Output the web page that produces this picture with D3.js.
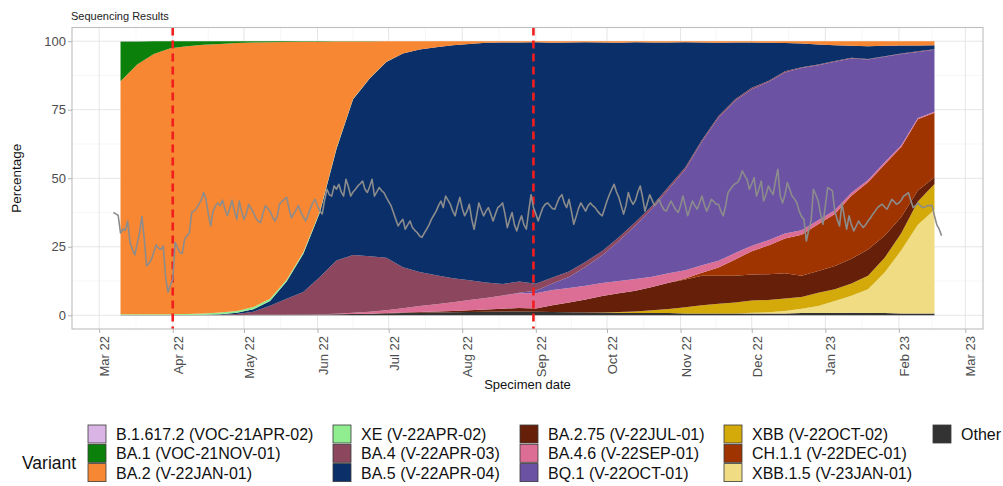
<!DOCTYPE html>
<html lang="en">
<head>
<meta charset="UTF-8">
<title>Sequencing Results</title>
<style>
  body { margin: 0; background: #fff; }
  svg { display: block; font-family: "Liberation Sans", Arial, sans-serif; }
</style>
</head>
<body>
<svg id="chart" width="1003" height="486"></svg>
<script src="https://d3js.org/d3.v7.min.js"></script>
<script>
// weekly variant shares (%), one value per week starting 2022-03-10
const weekStart = "2022-03-10";
const other  = [0.1,0.1,0.1,0.1,0.1,0.1,0.1,0.1,0.2,0.2, 0.2,0.3,0.3,0.4,0.5,0.6,0.7,0.8,0.9,1.0, 1.1,1.2,1.3,1.4,1.4,1.3,1.2,1.1,1.0,0.9, 0.9,0.8,0.8,0.8,0.7,0.7,0.7,0.7,0.7,0.7, 0.7,0.8,0.8,0.8,0.9,0.8,0.8,0.7,0.7,0.7];
const xbb15  = [0,0,0,0,0,0,0,0,0,0, 0,0,0,0,0,0,0,0,0,0, 0,0,0,0,0,0,0,0,0,0, 0,0,0,0,0,0,0,0,0.2,0.4, 0.9,1.6,2.6,4.4,6.2,8.7,14.8,23,32.3,37.8];
const xbb    = [0,0,0,0,0,0,0,0,0,0, 0,0,0,0,0,0,0,0,0,0, 0,0,0,0,0,0,0,0,0,0.1, 0.3,0.6,1,1.5,2.2,3,3.5,4,4.5,4.5, 4.5,4.3,4.8,4.3,4.5,4.9,5.4,6.2,8.5,9.4];
const ba275  = [0,0,0,0,0,0,0,0,0,0, 0,0,0,0,0,0,0.1,0.2,0.3,0.4, 0.5,0.6,0.8,1.0,1.3,1.2,2.5,3.6,4.8,6, 6.8,7.6,8.5,9.6,10.2,10.7,10.2,9.7,9.5,9.4, 9.2,7.7,8,8.5,9,9.6,8,6,4,2.5];
const ch11   = [0,0,0,0,0,0,0,0,0,0, 0,0,0,0,0,0,0,0,0,0, 0,0,0,0,0,0,0,0,0,0, 0,0,0,0,0.3,1.1,3,6,8.5,10.5, 12.7,15,17,19,23,24.5,26,25.5,26,23.5];
const ba46   = [0,0,0,0,0,0,0,0,0,0, 0,0,0.1,0.2,0.4,0.7,1.0,1.6,2.2,2.6, 3.2,3.8,4.2,4.8,5.3,5.5,5.5,5.3,5,4.8, 4.5,4.2,3.8,3.4,3,2.8,2.5,2.3,2,1.9, 1.8,1.6,1.5,1.3,1.1,0.9,0.8,0.6,0.5,0.4];
const bq1    = [0,0,0,0,0,0,0,0,0,0, 0,0,0,0,0,0,0,0,0,0, 0,0,0,0,0.2,1.0,2.4,4,6.9,10.1, 14.6,19.6,24.9,30.8,36.8,45,52.2,55.6,57.1,57.7, 58.8,59.2,56.5,54.2,49,43.9,38.5,33.3,24.1,22.6];
const ba4    = [0,0,0,0,0,0,0.1,0.4,1.1,3.3, 5.8,8.2,13.6,19.4,21.1,20.2,19.2,14.9,12.4,10.6, 8.7,7.2,5.7,4.2,4.1,2.5,2.2,2,1.8,1.6, 1.4,1.2,1.0,0.9,0.8,0.7,0.6,0.5,0.5,0.4, 0.4,0.3,0.3,0.3,0.3,0.2,0.2,0.2,0.2,0.2];
const ba5    = [0,0,0,0,0,0.1,0.2,0.4,0.9,1.7, 6.3,13.9,23.5,40.7,56.8,64.9,71.4,78,81.2,83.2, 85,86.2,87.4,88.1,87.2,88.1,85.6,83.5,80.1,76, 70.9,65.6,59.5,52.5,45.6,35.5,26.7,20.7,16.5,13.9, 10.3,8.7,7.3,5.7,4.3,4.7,3.8,2.9,2.1,1.4];
const xe     = [0.3,0.3,0.3,0.3,0.4,0.5,0.6,0.7,0.8,0.8, 0.7,0.6,0.5,0.3,0.2,0.1,0.1,0,0,0, 0,0,0,0,0,0,0,0,0,0, 0,0,0,0,0,0,0,0,0,0, 0,0,0,0,0,0,0,0,0,0];
const ba2    = [85.0,91.1,94.9,97.0,97.7,98.0,98.0,97.7,96.5,93.6, 86.7,76.8,61.8,38.9,20.9,13.4,7.5,4.5,3.0,2.2, 1.5,1.0,0.6,0.5,0.5,0.4,0.6,0.5,0.4,0.5, 0.6,0.4,0.5,0.5,0.4,0.5,0.6,0.5,0.5,0.6, 0.7,0.8,1.2,1.5,1.7,1.8,1.7,1.6,1.6,1.5];
const ba1    = [14.5,8.4,4.7,2.6,1.8,1.3,1.0,0.7,0.5,0.4, 0.3,0.2,0.2,0.1,0.1,0.1,0,0,0,0, 0,0,0,0,0,0,0,0,0,0, 0,0,0,0,0,0,0,0,0,0, 0,0,0,0,0,0,0,0,0,0];
const b16172 = [0.1,0.1,0,0,0,0,0,0,0,0, 0,0,0,0,0,0,0,0,0,0, 0,0,0,0,0,0,0,0,0,0, 0,0,0,0,0,0,0,0,0,0, 0,0,0,0,0,0,0,0,0,0];

// daily grey line (%), starting 2022-03-07
const seqStart = "2022-03-07";
const seqPct = [
  37.5,37,36.5,30,31.5,31,34.4,26.6,24,22, 26,30,36,28,18,19,20.4,23,25.7,24.5,
  24,25.3,14,8.4,11,13,26.6,24.7,23,22.6, 27.7,29,30,37.6,38,39,40.5,42,44.8,42.3,
  37,32.6,38,40,41,40,42,38.7,36.3,39, 42,38,35,41.7,38,35,37,40.5,39,37.5,
  35.5,34.4,33.8,37,40,39,38,36,34.4,36, 40.5,41.5,42.3,43,39,35.6,37,38.5,40,37.5,
  36,34.4,36.5,39,41,42.3,40,38,37,42, 46,44,43.5,47.2,46,47.8,45,43.5,49.6,47,
  43.5,45,46,47.2,48,49,46,44.8,47,49.6, 43.5,45,46.6,45.5,44.8,43,41.5,40,37.5,35,
  32.6,34,35,31.4,33,34.4,32,31,30.2,29, 28.4,30,31.4,33,35,36.5,38,40,41.7,39.3,
  43.5,42,40.5,38,36.3,40,43,39,36.3,38, 40.5,35,31.4,36,41,38.5,36.3,38,39.3,37,
  34.4,37,39.3,40,41,37,32,35,37.5,33, 30.8,34,36.3,33,31.4,38,44,39.3,37,34.4,
  37,39.3,40.5,41,40,39,38.7,41,43,44, 41,39.3,42.3,38,33.2,36,39,41,39.5,38,
  40,41,40,39.3,38,37,36.3,39,41.7,44, 46,47.8,45,43,40,36.9,40,44.8,42,40.5,
  42,45,47.2,43,38,41,44,42,40,41, 42.3,40,38.5,38,40,41.7,40,38.5,37.5,40,
  43.5,40,36.3,39,41.7,40,38.7,41,43.5,40.5, 38,40,42.3,41.5,40.5,40.5,38,36.3,40,44.8,
  46,47.2,48,48.4,50,52.7,51,49.6,46,48, 50.2,43.5,46,49,41.7,44,47.2,45.5,44,49,
  53.3,43.5,41,44,48.4,46,43.5,42.5,41,38, 36,35,27.1,31,34.4,46,44,41.7,37,33.2,
  40,46.6,46,45.4,38,35,32.6,41,36,31.4, 36.3,33,30.8,32.5,34.4,33,32,33,34.4,35.5,
  36.9,38,39.3,40,40.5,39.5,38.7,40.5,42.3,41.5, 40.5,41,42,43.5,44,44.8,42,39.3,40,41,
  40,39.3,39.5,40,40,40,36.3,33,31.4,29
];

const markerDates = ["2022-04-01", "2022-08-31"];
const yTicks = [0, 25, 50, 75, 100];

// stacking order, bottom to top
const layers = [
  {key: "Other", values: other, color: "#333333"},
  {key: "XBB.1.5 (V-23JAN-01)", values: xbb15, color: "#f0dc82"},
  {key: "XBB (V-22OCT-02)", values: xbb, color: "#d4aa0a"},
  {key: "BA.2.75 (V-22JUL-01)", values: ba275, color: "#66200a"},
  {key: "CH.1.1 (V-22DEC-01)", values: ch11, color: "#a03400"},
  {key: "BA.4.6 (V-22SEP-01)", values: ba46, color: "#dc6e96"},
  {key: "BQ.1 (V-22OCT-01)", values: bq1, color: "#6b52a3"},
  {key: "BA.4 (V-22APR-03)", values: ba4, color: "#8c465e"},
  {key: "BA.5 (V-22APR-04)", values: ba5, color: "#0b2f68"},
  {key: "XE (V-22APR-02)", values: xe, color: "#90ee90"},
  {key: "BA.2 (V-22JAN-01)", values: ba2, color: "#f78733"},
  {key: "BA.1 (VOC-21NOV-01)", values: ba1, color: "#0b800b"},
  {key: "B.1.617.2 (VOC-21APR-02)", values: b16172, color: "#dab4e4"}
];
const legendOrder = [
  "B.1.617.2 (VOC-21APR-02)", "BA.1 (VOC-21NOV-01)", "BA.2 (V-22JAN-01)",
  "XE (V-22APR-02)", "BA.4 (V-22APR-03)", "BA.5 (V-22APR-04)",
  "BA.2.75 (V-22JUL-01)", "BA.4.6 (V-22SEP-01)", "BQ.1 (V-22OCT-01)",
  "XBB (V-22OCT-02)", "CH.1.1 (V-22DEC-01)", "XBB.1.5 (V-23JAN-01)",
  "Other"
];

const svg = d3.select("#chart");
const panel = {left: 72, top: 27.5, right: 983, bottom: 329};
const parse = d3.utcParse("%Y-%m-%d");

const weekDates = other.map((v, j) => d3.utcDay.offset(parse(weekStart), 7 * j));
const lineDates = seqPct.map((v, i) => d3.utcDay.offset(parse(seqStart), i));
const pad = (lineDates[lineDates.length - 1] - lineDates[0]) * 0.05;

const x = d3.scaleUtc()
  .domain([new Date(+lineDates[0] - pad), new Date(+lineDates[lineDates.length - 1] + pad)])
  .range([panel.left, panel.right]);
const y = d3.scaleLinear().domain([-5, 105]).range([panel.bottom, panel.top]);

const months = d3.utcMonth.range(parse("2022-03-01"), parse("2023-03-02"));
const minorX = d3.pairs(months).map(([a, b]) => new Date((+a + +b) / 2));
const minorY = d3.pairs(yTicks).map(([a, b]) => (a + b) / 2);

// grid
const grid = svg.append("g");
grid.selectAll(".mx").data(minorX).join("line")
  .attr("x1", d => x(d)).attr("x2", d => x(d))
  .attr("y1", panel.top).attr("y2", panel.bottom)
  .attr("stroke", "#f2f2f2").attr("stroke-width", 0.6);
grid.selectAll(".my").data(minorY).join("line")
  .attr("x1", panel.left).attr("x2", panel.right)
  .attr("y1", d => y(d)).attr("y2", d => y(d))
  .attr("stroke", "#f2f2f2").attr("stroke-width", 0.6);
grid.selectAll(".Mx").data(months).join("line")
  .attr("x1", d => x(d)).attr("x2", d => x(d))
  .attr("y1", panel.top).attr("y2", panel.bottom)
  .attr("stroke", "#e6e6e6").attr("stroke-width", 1);
grid.selectAll(".My").data(yTicks).join("line")
  .attr("x1", panel.left).attr("x2", panel.right)
  .attr("y1", d => y(d)).attr("y2", d => y(d))
  .attr("stroke", "#e6e6e6").attr("stroke-width", 1);

// stacked areas
const rows = weekDates.map((d, j) => {
  const r = {date: d};
  layers.forEach(l => r[l.key] = l.values[j]);
  return r;
});
const stacked = d3.stack().keys(layers.map(l => l.key))(rows);
const area = d3.area()
  .x(d => x(d.data.date))
  .y0(d => y(d[0]))
  .y1(d => y(d[1]));
const colorOf = Object.fromEntries(layers.map(l => [l.key, l.color]));

svg.append("g").selectAll("path").data(stacked).join("path")
  .attr("d", area)
  .attr("fill", d => colorOf[d.key]);

// red dashed markers
svg.append("g").selectAll("line").data(markerDates).join("line")
  .attr("x1", d => x(parse(d))).attr("x2", d => x(parse(d)))
  .attr("y1", panel.top).attr("y2", panel.bottom)
  .attr("stroke", "#f21d1d").attr("stroke-width", 2.6)
  .attr("stroke-dasharray", "8,5");

// grey line
const line = d3.line().x((d, i) => x(lineDates[i])).y(d => y(d));
svg.append("path")
  .datum(seqPct)
  .attr("d", line)
  .attr("fill", "none")
  .attr("stroke", "#8c8c8c")
  .attr("stroke-width", 1.6)
  .attr("stroke-linejoin", "round");

// panel border
svg.append("rect")
  .attr("x", panel.left).attr("y", panel.top)
  .attr("width", panel.right - panel.left).attr("height", panel.bottom - panel.top)
  .attr("fill", "none").attr("stroke", "#bdbdbd").attr("stroke-width", 1.1);

// axes
svg.append("g")
  .attr("transform", `translate(0,${panel.bottom})`)
  .call(d3.axisBottom(x).tickValues(months).tickFormat(d3.utcFormat("%b %y")).tickSize(4))
  .call(g => g.select(".domain").remove())
  .call(g => g.selectAll(".tick line").attr("stroke", "#b3b3b3"))
  .call(g => g.selectAll(".tick text")
    .attr("transform", "rotate(-90)")
    .attr("text-anchor", "end")
    .attr("x", -7).attr("y", 5).attr("dy", "0.35em")
    .attr("fill", "#4d4d4d")
    .attr("font-size", 13)
    .attr("font-family", "Liberation Sans, Arial, sans-serif"));

svg.append("g")
  .attr("transform", `translate(${panel.left},0)`)
  .call(d3.axisLeft(y).tickValues(yTicks).tickSize(4).tickPadding(2))
  .call(g => g.select(".domain").remove())
  .call(g => g.selectAll(".tick line").attr("stroke", "#b3b3b3"))
  .call(g => g.selectAll(".tick text")
    .attr("fill", "#4d4d4d")
    .attr("font-size", 13)
    .attr("font-family", "Liberation Sans, Arial, sans-serif"));

// titles
svg.append("text")
  .attr("x", 71).attr("y", 20)
  .attr("font-size", 11).attr("fill", "#222")
  .text("Sequencing Results");
svg.append("text")
  .attr("x", (panel.left + panel.right) / 2).attr("y", 389)
  .attr("text-anchor", "middle").attr("font-size", 13).attr("fill", "#111")
  .text("Specimen date");
svg.append("text")
  .attr("transform", `translate(21,${(panel.top + panel.bottom) / 2}) rotate(-90)`)
  .attr("text-anchor", "middle").attr("font-size", 13.5).attr("fill", "#111")
  .text("Percentage");

// legend
const legend = svg.append("g");
legend.append("text")
  .attr("x", 22).attr("y", 469)
  .attr("font-size", 17.5).attr("fill", "#111")
  .text("Variant");
const colX = [88, 333, 520, 724, 933];
const rowY = [425, 444.3, 463.6];
legendOrder.forEach((k, i) => {
  const cx = colX[Math.floor(i / 3)];
  const cy = rowY[i % 3];
  legend.append("rect")
    .attr("x", cx).attr("y", cy).attr("width", 18).attr("height", 18)
    .attr("fill", colorOf[k]).attr("stroke", "#3a3a3a").attr("stroke-width", 0.8);
  legend.append("text")
    .attr("x", cx + 28).attr("y", cy + 15)
    .attr("font-size", 16).attr("fill", "#111")
    .text(k);
});
</script>
</body>
</html>
